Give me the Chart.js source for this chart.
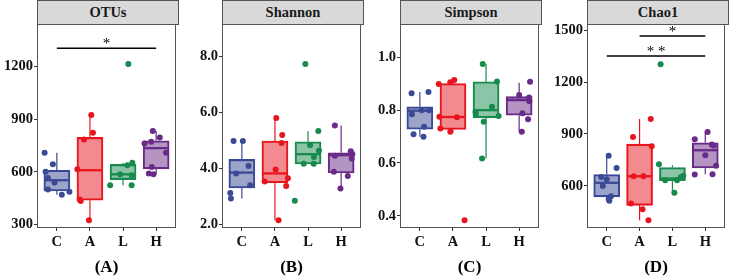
<!DOCTYPE html>
<html>
<head>
<meta charset="utf-8">
<script src="https://cdn.jsdelivr.net/npm/chart.js@4/dist/chart.umd.min.js"></script>
<style>
  body { margin: 0; background: #fff; }
  #wrap { position: relative; width: 729px; height: 276px; overflow: hidden; font-family: "Liberation Serif", serif; }
  canvas { position: absolute; top: 0; }
  .strip { position: absolute; top: 0; height: 25px; box-sizing: border-box; border: 1px solid #555;
           background: #d9d9d9; text-align: center; font-weight: bold; font-size: 14.5px; line-height: 23px; color: #1a1a1a; }
</style>
</head>
<body>
<div id="wrap"></div>
<script>
// groups on the x axis
const groups = ['C', 'A', 'L', 'H']

// each point is [x position (with jitter), value]; box = [lower whisker, Q1, median, Q3, upper whisker]
const otusPts = [
  [[0.63, 709], [0.88, 644], [0.66, 601], [0.73, 566], [0.93, 540], [0.73, 500], [1.38, 488], [1.15, 470]],
  [[2.04, 924], [2.09, 823], [1.82, 785], [1.62, 616], [1.69, 443], [1.72, 435], [1.97, 325]],
  [[3.16, 1215], [3.28, 652], [3.13, 639], [2.91, 587], [3.26, 582], [2.61, 525], [3.26, 525]],
  [[3.90, 833], [4.11, 797], [3.65, 762], [3.85, 772], [4.30, 709], [3.87, 629], [3.78, 591], [3.92, 587]]
]
const otusBox = [[470, 492, 553, 610, 709], [325, 439, 610, 797, 924], [525, 557, 587, 643, 652], [587, 618, 736, 778, 833]]
const otusTicks = [300, 600, 900, 1200]
const otusSig = [[1, 4, 1305, '*', 2.5, 1330]]

const shannonPts = [
  [[0.75, 4.99], [1.03, 4.99], [1.20, 4.10], [0.83, 3.83], [1.25, 3.41], [0.65, 3.13], [0.67, 2.93]],
  [[2.04, 5.81], [2.22, 5.20], [2.20, 4.92], [2.02, 3.97], [1.69, 3.54], [2.39, 3.66], [2.34, 3.38], [2.11, 2.16]],
  [[2.92, 7.74], [3.31, 5.35], [3.06, 4.84], [3.33, 4.64], [3.18, 4.42], [2.87, 4.18], [3.17, 4.18], [2.60, 2.85]],
  [[3.81, 5.54], [4.29, 4.62], [4.34, 4.52], [4.32, 4.36], [3.81, 4.46], [3.78, 3.89], [4.20, 3.74], [3.98, 3.29]]
]
const shannonBox = [[2.93, 3.31, 3.86, 4.33, 4.99], [2.16, 3.50, 3.83, 4.99, 5.81], [4.17, 4.17, 4.52, 4.96, 5.34], [3.29, 3.85, 4.48, 4.57, 5.54]]
const shannonTicks = [2.0, 4.0, 6.0, 8.0]

const simpsonPts = [
  [[0.75, 0.864], [1.26, 0.869], [0.76, 0.784], [1.06, 0.800], [1.28, 0.800], [1.13, 0.737], [0.81, 0.709], [1.11, 0.699]],
  [[1.57, 0.899], [1.92, 0.906], [2.04, 0.914], [1.59, 0.775], [2.12, 0.773], [1.62, 0.731], [1.92, 0.718], [2.35, 0.383]],
  [[2.90, 0.975], [3.33, 0.908], [3.18, 0.813], [2.68, 0.794], [2.69, 0.785], [3.38, 0.778], [2.93, 0.756], [2.88, 0.617]],
  [[4.33, 0.907], [4.00, 0.857], [4.30, 0.848], [4.31, 0.834], [4.10, 0.788], [4.27, 0.766], [4.08, 0.718]]
]
const simpsonBox = [[0.699, 0.728, 0.798, 0.813, 0.869], [0.718, 0.727, 0.774, 0.901, 0.914], [0.617, 0.771, 0.800, 0.907, 0.975], [0.718, 0.781, 0.838, 0.851, 0.904]]
const simpsonTicks = [0.4, 0.6, 0.8, 1.0]

const chaoPts = [
  [[1.06, 774], [1.30, 704], [0.83, 652], [1.00, 639], [0.88, 600], [1.13, 540], [1.06, 523], [1.08, 514]],
  [[2.34, 986], [1.80, 883], [2.37, 829], [1.82, 656], [2.12, 656], [1.74, 498], [2.09, 465], [2.27, 402]],
  [[2.64, 1303], [2.59, 725], [2.78, 633], [3.14, 633], [3.33, 658], [3.25, 650], [3.06, 560]],
  [[4.07, 912], [3.68, 870], [4.20, 839], [4.25, 833], [4.00, 777], [4.33, 716], [4.22, 668], [3.68, 666]]
]
const chaoBox = [[514, 537, 618, 666, 774], [402, 488, 656, 841, 986], [560, 631, 643, 706, 720], [668, 704, 806, 849, 912]]
const chaoTicks = [600, 900, 1200, 1500]
const chaoSig = [[2, 4, 1465, '*', 3, 1490], [1, 4, 1350, '* *', 2.5, 1375]]

// styling
const lineCol = ['#3b4a96', '#e8151f', '#178a4e', '#6a2a87']
const boxFill = ['rgba(59,74,150,0.5)', 'rgba(232,21,31,0.5)', 'rgba(23,138,78,0.5)', 'rgba(106,42,135,0.5)']
const serif = '"Liberation Serif", "Times New Roman", serif'

const panels = [
  {title: 'OTUs', tag: '(A)', left: 0, width: 180, yw: 37, padR: 1, min: 281, max: 1443, ticks: otusTicks, dec: 0, pts: otusPts, box: otusBox, sig: otusSig},
  {title: 'Shannon', tag: '(B)', left: 185, width: 180, yw: 37, padR: 1, min: 1.88, max: 9.17, ticks: shannonTicks, dec: 1, pts: shannonPts, box: shannonBox, sig: []},
  {title: 'Simpson', tag: '(C)', left: 370, width: 173, yw: 30, padR: 1, min: 0.354, max: 1.126, ticks: simpsonTicks, dec: 1, pts: simpsonPts, box: simpsonBox, sig: []},
  {title: 'Chao1', tag: '(D)', left: 550, width: 179, yw: 37, padR: 0, min: 357, max: 1535, ticks: chaoTicks, dec: 0, pts: chaoPts, box: chaoBox, sig: chaoSig}
]

// panel border + significance stars
const panelDeco = {
  id: 'panelDeco',
  afterDraw(chart, args, opts) {
    const {ctx, chartArea: a, scales} = chart
    ctx.save()
    opts.sig.forEach(s => {
      ctx.font = '15px ' + serif
      ctx.fillStyle = '#000'
      ctx.textAlign = 'center'
      ctx.textBaseline = 'middle'
      ctx.fillText(s[3], scales.x.getPixelForValue(s[4]), scales.y.getPixelForValue(s[5]))
    })
    ctx.strokeStyle = '#555'
    ctx.lineWidth = 1
    ctx.strokeRect(Math.round(a.left) + 0.5, Math.round(a.top) + 0.5, Math.round(a.right - a.left) - 1, Math.round(a.bottom - a.top) - 1)
    ctx.restore()
  }
}

const wrap = document.getElementById('wrap')

panels.forEach(p => {
  const cv = document.createElement('canvas')
  cv.width = p.width
  cv.height = 276
  cv.style.left = p.left + 'px'
  cv.style.width = p.width + 'px'
  cv.style.height = '276px'
  wrap.appendChild(cv)

  const strip = document.createElement('div')
  strip.className = 'strip'
  strip.style.left = (p.left + p.yw) + 'px'
  strip.style.width = (p.width - p.yw - p.padR) + 'px'
  strip.textContent = p.title
  wrap.appendChild(strip)

  const datasets = []
  // whiskers
  groups.forEach((g, i) => {
    const b = p.box[i]
    datasets.push({
      type: 'line', order: 4, borderColor: lineCol[i], borderWidth: 1.2, pointRadius: 0, spanGaps: false,
      data: [{x: i + 1, y: b[0]}, {x: i + 1, y: b[1]}, {x: i + 1, y: null}, {x: i + 1, y: b[3]}, {x: i + 1, y: b[4]}]
    })
  })
  // boxes
  datasets.push({
    type: 'bar', order: 3, barThickness: 26, borderWidth: 1.4, borderSkipped: false,
    backgroundColor: boxFill, borderColor: lineCol,
    data: p.box.map((b, i) => ({x: i + 1, y: [b[1], b[3]]}))
  })
  // medians
  groups.forEach((g, i) => {
    const b = p.box[i]
    datasets.push({
      type: 'line', order: 2, borderColor: lineCol[i], borderWidth: 2.3, pointRadius: 0,
      data: [{x: i + 1 - 0.385, y: b[2]}, {x: i + 1 + 0.385, y: b[2]}]
    })
  })
  // jittered samples
  groups.forEach((g, i) => {
    datasets.push({
      type: 'scatter', order: 1, backgroundColor: lineCol[i], borderWidth: 0, pointRadius: 3,
      data: p.pts[i].map(d => ({x: d[0], y: d[1]}))
    })
  })
  // significance brackets
  p.sig.forEach(s => {
    datasets.push({
      type: 'line', order: 0, borderColor: '#000', borderWidth: 1.5, pointRadius: 0,
      data: [{x: s[0], y: s[2]}, {x: s[1], y: s[2]}]
    })
  })

  new Chart(cv, {
    type: 'scatter',
    data: {datasets},
    plugins: [panelDeco],
    options: {
      responsive: false,
      animation: false,
      layout: {padding: {top: 24, right: p.padR, left: 0, bottom: 0}},
      plugins: {legend: {display: false}, tooltip: {enabled: false}, panelDeco: {sig: p.sig}},
      scales: {
        x: {
          type: 'linear', min: 0.4, max: 4.6, offset: false,
          afterBuildTicks: sc => { sc.ticks = groups.map((g, i) => ({value: i + 1})) },
          afterFit: sc => { sc.height = 48 },
          grid: {display: true, drawOnChartArea: false, drawTicks: true, tickLength: 3, color: '#333', offset: false},
          border: {display: false},
          ticks: {color: '#111', padding: 3, font: {family: serif, size: 14.5, weight: 'bold'}, callback: v => groups[v - 1]},
          title: {display: true, text: p.tag, color: '#000', padding: 0, font: {family: serif, size: 17, weight: 'bold', lineHeight: 1}}
        },
        y: {
          type: 'linear', min: p.min, max: p.max,
          afterBuildTicks: sc => { sc.ticks = p.ticks.map(v => ({value: v})) },
          afterFit: sc => { sc.width = p.yw },
          grid: {display: true, drawOnChartArea: false, drawTicks: true, tickLength: 3, color: '#333'},
          border: {display: false},
          ticks: {color: '#111', padding: 1, font: {family: serif, size: 14.5, weight: 'bold'}, callback: v => Number(v).toFixed(p.dec)}
        }
      }
    }
  })
})
</script>
</body>
</html>
